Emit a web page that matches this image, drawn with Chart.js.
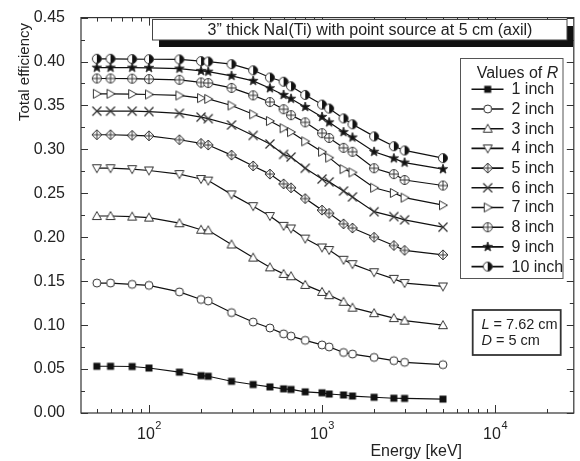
<!DOCTYPE html>
<html>
<head>
<meta charset="utf-8">
<script src="https://cdn.jsdelivr.net/npm/chart.js@4.4.0/dist/chart.umd.min.js"></script>
<style>
  html, body { margin: 0; padding: 0; background: #fff; }
  #wrap { position: relative; width: 580px; height: 461px; }
</style>
</head>
<body>
<div id="wrap"><canvas id="effChart"></canvas></div>
<script>
// energias en keV
const energias = [50, 60, 80, 100, 150, 200, 220, 300, 400, 500, 600, 662, 800, 1000, 1100, 1332, 1500, 2000, 2600, 3000, 5000];

const r1  = [0.0532, 0.0532, 0.0529, 0.0512, 0.0465, 0.0425, 0.0418, 0.0361, 0.0324, 0.0297, 0.0275, 0.0268, 0.0241, 0.0230, 0.0216, 0.0205, 0.0193, 0.0179, 0.0168, 0.0166, 0.0158];
const r2  = [0.1479, 0.1479, 0.1464, 0.1453, 0.1378, 0.1292, 0.1274, 0.1143, 0.1035, 0.0968, 0.0901, 0.0875, 0.0827, 0.0775, 0.0752, 0.0689, 0.0671, 0.0633, 0.0596, 0.0577, 0.0550];
const r3  = [0.2242, 0.2242, 0.2235, 0.2224, 0.2160, 0.2086, 0.2079, 0.1918, 0.1769, 0.1658, 0.1583, 0.1557, 0.1458, 0.1378, 0.1341, 0.1266, 0.1199, 0.1136, 0.1080, 0.1051, 0.1000];
const r4  = [0.2786, 0.2786, 0.2775, 0.2760, 0.2719, 0.2663, 0.2645, 0.2488, 0.2354, 0.2242, 0.2130, 0.2100, 0.1985, 0.1884, 0.1855, 0.1744, 0.1694, 0.1602, 0.1527, 0.1479, 0.1440];
const r5  = [0.3167, 0.3167, 0.3160, 0.3155, 0.3110, 0.3068, 0.3050, 0.2935, 0.2812, 0.2719, 0.2608, 0.2563, 0.2440, 0.2309, 0.2272, 0.2153, 0.2105, 0.2000, 0.1907, 0.1851, 0.1800];
const r6  = [0.3435, 0.3435, 0.3435, 0.3430, 0.3410, 0.3368, 0.3350, 0.3278, 0.3159, 0.3062, 0.2943, 0.2913, 0.2786, 0.2663, 0.2630, 0.2526, 0.2459, 0.2291, 0.2235, 0.2198, 0.2115];
const r7  = [0.3633, 0.3633, 0.3630, 0.3625, 0.3614, 0.3584, 0.3575, 0.3500, 0.3400, 0.3323, 0.3241, 0.3197, 0.3092, 0.2973, 0.2906, 0.2775, 0.2738, 0.2563, 0.2504, 0.2451, 0.2365];
const r8  = [0.3807, 0.3807, 0.3805, 0.3800, 0.3792, 0.3762, 0.3755, 0.3700, 0.3615, 0.3539, 0.3457, 0.3390, 0.3308, 0.3185, 0.3130, 0.3018, 0.2973, 0.2786, 0.2719, 0.2652, 0.2589];
const r9  = [0.3930, 0.3930, 0.3930, 0.3928, 0.3920, 0.3893, 0.3885, 0.3837, 0.3780, 0.3696, 0.3620, 0.3577, 0.3483, 0.3370, 0.3308, 0.3197, 0.3136, 0.2973, 0.2898, 0.2850, 0.2775];
const r10 = [0.4031, 0.4031, 0.4028, 0.4026, 0.4024, 0.4005, 0.4000, 0.3970, 0.3900, 0.3818, 0.3770, 0.3718, 0.3620, 0.3510, 0.3465, 0.3353, 0.3286, 0.3148, 0.3036, 0.2988, 0.2900];

const etiquetas = ['1 inch', '2 inch', '3 inch', '4 inch', '5 inch', '6 inch', '7 inch', '8 inch', '9 inch', '10 inch'];
const marcadores = ['cuadrado', 'circulo', 'trianguloArriba', 'trianguloAbajo', 'diamanteCruz', 'equis', 'trianguloDerecha', 'circuloCruz', 'estrella', 'medioCirculo'];
const yTicks = [0, 0.05, 0.10, 0.15, 0.20, 0.25, 0.30, 0.35, 0.40, 0.45];
const xDecadas = [100, 1000, 10000];

const fuente = '"Liberation Sans", Arial, sans-serif';

function crearMarcador(tipo) {
  const c = document.createElement('canvas');
  c.width = 14; c.height = 14;
  const g = c.getContext('2d');
  g.translate(7, 7);
  g.lineWidth = 1;
  g.strokeStyle = '#333';
  g.fillStyle = '#fff';
  const poligono = (pts) => {
    g.beginPath();
    pts.forEach((p, i) => i ? g.lineTo(p[0], p[1]) : g.moveTo(p[0], p[1]));
    g.closePath();
    g.fill();
    g.stroke();
  };
  switch (tipo) {
    case 'cuadrado':
      g.fillStyle = '#111';
      g.fillRect(-3.5, -3.5, 7, 7);
      break;
    case 'circulo':
      g.beginPath(); g.arc(0, 0, 4, 0, 2 * Math.PI); g.fill(); g.stroke();
      break;
    case 'trianguloArriba':
      poligono([[0, -4.5], [4.5, 3.5], [-4.5, 3.5]]);
      break;
    case 'trianguloAbajo':
      poligono([[0, 4.5], [4.5, -3.5], [-4.5, -3.5]]);
      break;
    case 'trianguloDerecha':
      poligono([[4.5, 0], [-3.5, -4.5], [-3.5, 4.5]]);
      break;
    case 'diamanteCruz':
      poligono([[0, -5], [5, 0], [0, 5], [-5, 0]]);
      g.beginPath(); g.moveTo(-5, 0); g.lineTo(5, 0); g.moveTo(0, -5); g.lineTo(0, 5); g.stroke();
      break;
    case 'equis':
      g.lineWidth = 1.3;
      g.beginPath(); g.moveTo(-4.5, -4.5); g.lineTo(4.5, 4.5); g.moveTo(4.5, -4.5); g.lineTo(-4.5, 4.5); g.stroke();
      break;
    case 'circuloCruz':
      g.beginPath(); g.arc(0, 0, 4.5, 0, 2 * Math.PI); g.fill(); g.stroke();
      g.beginPath(); g.moveTo(-4.5, 0); g.lineTo(4.5, 0); g.moveTo(0, -4.5); g.lineTo(0, 4.5); g.stroke();
      break;
    case 'estrella': {
      g.fillStyle = '#111';
      const pts = [];
      for (let k = 0; k < 10; k++) {
        const r = k % 2 ? 2 : 5;
        const a = -Math.PI / 2 + k * Math.PI / 5;
        pts.push([r * Math.cos(a), r * Math.sin(a)]);
      }
      poligono(pts);
      break;
    }
    case 'medioCirculo':
      g.beginPath(); g.arc(0, 0, 4.5, 0, 2 * Math.PI); g.fill();
      g.fillStyle = '#111';
      g.beginPath(); g.arc(0, 0, 4.5, -Math.PI / 2, Math.PI / 2); g.closePath(); g.fill();
      g.beginPath(); g.arc(0, 0, 4.5, 0, 2 * Math.PI); g.stroke();
      break;
  }
  return c;
}

const imagenes = marcadores.map(crearMarcador);
const series = [r1, r2, r3, r4, r5, r6, r7, r8, r9, r10];

const decoracion = {
  id: 'decoracion',
  beforeDatasetsDraw(chart) {
    const ctx = chart.ctx;
    const a = chart.chartArea;
    const xs = chart.scales.x, ys = chart.scales.y;
    ctx.save();
    ctx.strokeStyle = '#333';
    ctx.lineWidth = 1.2;
    ctx.strokeRect(a.left, a.top, a.right - a.left, a.bottom - a.top);
    ctx.lineWidth = 1;
    ctx.beginPath();
    // ticks y (mayores y menores)
    for (let v = 0; v <= 0.4501; v += 0.025) {
      const py = Math.round(ys.getPixelForValue(v)) + 0.5;
      const mayor = Math.abs(v / 0.05 - Math.round(v / 0.05)) < 1e-6;
      const L = mayor ? 7 : 4;
      ctx.moveTo(a.left, py); ctx.lineTo(a.left + L, py);
      ctx.moveTo(a.right, py); ctx.lineTo(a.right - L, py);
    }
    // ticks x logaritmicos
    for (let d = 10; d <= 10000; d *= 10) {
      for (let m = 1; m <= 9; m++) {
        const v = m * d;
        if (v < xs.min || v > xs.max) continue;
        const px = Math.round(xs.getPixelForValue(v)) + 0.5;
        const L = m === 1 ? 8 : 4;
        ctx.moveTo(px, a.bottom); ctx.lineTo(px, a.bottom - L);
        ctx.moveTo(px, a.top); ctx.lineTo(px, a.top + L);
      }
    }
    ctx.stroke();
    ctx.restore();
  },
  afterDraw(chart) {
    const ctx = chart.ctx;
    const xs = chart.scales.x;
    ctx.save();
    ctx.fillStyle = '#222';

    // etiquetas del eje x: 10^n
    xDecadas.forEach((v, i) => {
      const px = xs.getPixelForValue(v);
      const exp = String(Math.round(Math.log10(v)));
      ctx.font = '16px ' + fuente;
      const w1 = ctx.measureText('10').width;
      ctx.font = '11px ' + fuente;
      const w2 = ctx.measureText(exp).width;
      const x0 = px - (w1 + w2) / 2;
      ctx.textAlign = 'left';
      ctx.textBaseline = 'alphabetic';
      ctx.font = '16px ' + fuente;
      ctx.fillText('10', x0, 439);
      ctx.font = '11px ' + fuente;
      ctx.fillText(exp, x0 + w1 + 0.5, 429);
    });

    // titulos de ejes
    ctx.font = '16px ' + fuente;
    ctx.textAlign = 'right';
    ctx.fillText('Energy [keV]', 462, 456);
    ctx.save();
    ctx.translate(25, 72);
    ctx.rotate(-Math.PI / 2);
    ctx.textAlign = 'center';
    ctx.textBaseline = 'middle';
    ctx.font = '15px ' + fuente;
    ctx.fillText('Total efficiency', 0, 0);
    ctx.restore();

    // caja del titulo con sombra
    ctx.fillStyle = '#111';
    ctx.fillRect(159, 26, 414, 21);
    ctx.fillStyle = '#fff';
    ctx.fillRect(152.5, 19.5, 414.5, 20.5);
    ctx.strokeStyle = '#444';
    ctx.lineWidth = 1;
    ctx.strokeRect(152.5, 19.5, 414.5, 20.5);
    ctx.fillStyle = '#222';
    ctx.font = '16px ' + fuente;
    ctx.textAlign = 'center';
    ctx.textBaseline = 'middle';
    ctx.fillText('3\u201D thick NaI(Ti) with point source at 5 cm (axil)', 370, 30.5);

    // leyenda
    ctx.fillStyle = '#fff';
    ctx.fillRect(460.5, 58.5, 102.5, 220);
    ctx.strokeStyle = '#555';
    ctx.strokeRect(460.5, 58.5, 102.5, 220);
    ctx.fillStyle = '#222';
    ctx.textAlign = 'left';
    ctx.font = '16px ' + fuente;
    const wv = ctx.measureText('Values of ').width;
    ctx.font = 'italic 16px ' + fuente;
    const wr = ctx.measureText('R').width;
    const vx = 511.5 - (wv + wr) / 2 + 6;
    ctx.font = '16px ' + fuente;
    ctx.fillText('Values of ', vx, 73.5);
    ctx.font = 'italic 16px ' + fuente;
    ctx.fillText('R', vx + wv, 73.5);
    ctx.font = '16px ' + fuente;
    etiquetas.forEach((t, i) => {
      const y = 89.3 + i * 19.7;
      ctx.strokeStyle = '#111';
      ctx.lineWidth = 1.6;
      ctx.beginPath(); ctx.moveTo(471.5, y); ctx.lineTo(503.5, y); ctx.stroke();
      const img = imagenes[i];
      ctx.drawImage(img, 487.7 - img.width / 2, y - img.height / 2);
      ctx.fillStyle = '#222';
      ctx.fillText(t, 511.5, y + 0.5);
    });

    // caja L, D
    ctx.strokeStyle = '#333';
    ctx.lineWidth = 1.8;
    ctx.fillStyle = '#fff';
    ctx.fillRect(472.7, 310, 88, 45);
    ctx.strokeRect(472.7, 310, 88, 45);
    ctx.fillStyle = '#222';
    const lineaMixta = (cursiva, resto, x, y) => {
      ctx.font = 'italic 14.5px ' + fuente;
      ctx.fillText(cursiva, x, y);
      const w = ctx.measureText(cursiva).width;
      ctx.font = '14.5px ' + fuente;
      ctx.fillText(resto, x + w, y);
    };
    lineaMixta('L', ' = 7.62 cm', 481.5, 324.5);
    lineaMixta('D', ' = 5 cm', 481.5, 341);
    ctx.restore();
  }
};

const ctx = document.getElementById('effChart').getContext('2d');

new Chart(ctx, {
  type: 'line',
  data: {
    datasets: series.map((vals, i) => ({
      label: etiquetas[i],
      data: energias.map((e, j) => ({ x: e, y: vals[j] })),
      borderColor: '#111',
      borderWidth: 1.2,
      pointStyle: imagenes[i],
      pointRadius: 5,
      tension: 0
    }))
  },
  options: {
    responsive: true,
    maintainAspectRatio: false,
    animation: false,
    layout: { padding: { left: 0, top: 11, right: 2, bottom: 0 } },
    scales: {
      x: {
        type: 'logarithmic',
        min: 40.5,
        max: 28500,
        grid: { display: false },
        border: { display: false },
        ticks: { display: false },
        afterFit(scale) { scale.height = 48; }
      },
      y: {
        min: 0,
        max: 0.45,
        grid: { display: false },
        border: { display: false },
        afterBuildTicks(scale) { scale.ticks = yTicks.map(v => ({ value: v })); },
        ticks: {
          padding: 8,
          color: '#222',
          font: { family: fuente, size: 16 },
          callback: v => Number(v).toFixed(2)
        },
        afterFit(scale) { scale.width = 81; }
      }
    },
    plugins: {
      legend: { display: false },
      tooltip: { enabled: false }
    }
  },
  plugins: [decoracion]
});
</script>
</body>
</html>
